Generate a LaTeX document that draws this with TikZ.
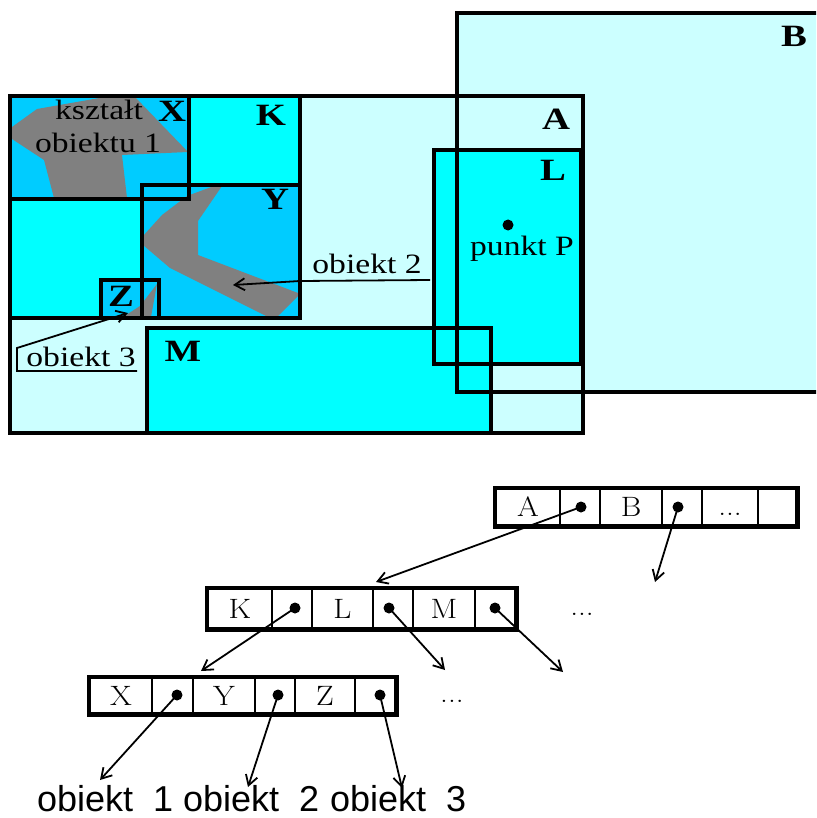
\documentclass[tikz,border=0pt]{standalone}
\usepackage{fontspec}
\newfontfamily\tnr{Liberation Serif}
\newfontfamily\ari{Liberation Sans}
\usetikzlibrary{arrows.meta}
\definecolor{lcyan}{HTML}{CCFFFF}
\definecolor{mcyan}{HTML}{00FFFF}
\definecolor{dcyan}{HTML}{00CCFF}
\definecolor{shapegrey}{HTML}{808080}
\newcommand\boldlbl[1]{\scalebox{1.25}[1]{\tnr\bfseries\fontsize{31}{33}\selectfont #1}}
\newcommand\toplbl[1]{\scalebox{1.2}[1]{\tnr\fontsize{28}{30}\selectfont #1}}
\newcommand\celltxt[1]{\scalebox{1.12}[1]{\fontsize{28}{30}\selectfont #1}}
\begin{document}
\begin{tikzpicture}[x=1pt,y=-1pt,
  region/.style={line width=3.6pt},
  lbl/.style={anchor=base, inner sep=0pt},
  cell/.style={draw, line width=2.8pt, inner sep=0pt},
  ptr/.style={line width=1.8pt, -{Straight Barb[length=10pt,width=12pt,line width=1.8pt]}},
  dotmark/.style={circle, fill, inner sep=0pt, minimum size=11pt},
  bottomtxt/.style={anchor=base west, inner sep=0pt, font=\ari\fontsize{36}{38}\selectfont},
]
\useasboundingbox (0,0) rectangle (816,818);
% ---- fills
\fill[lcyan] (10,96) rectangle (583,433);
\begin{scope}
\clip (0,0) rectangle (816,818);
\fill[lcyan] (457,13) rectangle (830,392);
\end{scope}
\fill[mcyan] (147,328) rectangle (491,433);
\fill[mcyan] (434,150) rectangle (581,364);
\fill[dcyan] (10,96) rectangle (189,199);
\fill[mcyan] (189,96) rectangle (300,185);
\fill[mcyan] (10,199) rectangle (142,318);
\fill[dcyan] (142,185) rectangle (300,318);
\fill[dcyan] (101,280) rectangle (159,318);
% ---- grey object shapes
\fill[shapegrey] (12,127) -- (37,109) -- (105,97) -- (135,97) -- (188,152) -- (122,155)
  -- (127,198) -- (54,198) -- (44,160) -- (12,139) -- cycle;
\fill[shapegrey] (214,186) -- (222,186) -- (198,221) -- (198,255) -- (298,293) -- (298,296)
  -- (278,316) -- (266,316) -- (170,268) -- (143,245) -- (143,236) -- (162,215) -- (187,196) -- cycle;
\fill[shapegrey] (157,284) -- (151,317) -- (123,317) -- (140,306) -- cycle;
% ---- borders
\draw[region] (10,96) rectangle (583,433);
\draw[region] (147,328) rectangle (491,433);
\draw[region] (434,150) rectangle (581,364);
\draw[region] (10,96) rectangle (300,318);
\draw[region] (10,96) rectangle (189,199);
\draw[region] (189,96) rectangle (300,185);
\draw[region] (142,185) rectangle (300,318);
\draw[region] (101,280) rectangle (159,318);
\begin{scope}
\clip (0,0) rectangle (816,818);
\draw[region] (830,13) -- (457,13) -- (457,392) -- (830,392);
\end{scope}
% ---- region labels
\node[lbl] (lX) at (172,122) {\boldlbl{X}};
\node[lbl] (lK) at (271,126) {\boldlbl{K}};
\node[lbl] (lY) at (275,210) {\boldlbl{Y}};
\node[lbl] (lZ) at (121,306) {\boldlbl{Z}};
\node[lbl] (lA) at (556,130) {\boldlbl{A}};
\node[lbl] (lB) at (794,47) {\boldlbl{B}};
\node[lbl] (lL) at (553,181) {\boldlbl{L}};
\node[lbl] (lM) at (183,361) {\boldlbl{M}};
\node[lbl] (t1a) at (99,120) {\toplbl{kształt}};
\node[lbl] (t1b) at (98,153) {\toplbl{obiektu 1}};
\node[dotmark] (P) at (508,225) {};
\node[lbl] (tP) at (522,255) {\toplbl{punkt P}};
% ---- obiekt 2 pointer
\node[lbl] (t2) at (367,273) {\toplbl{obiekt 2}};
\coordinate (o2a) at (430,280);
\coordinate (o2m) at (300,281);
\coordinate (o2b) at (233,285);
\draw[ptr] (o2a) -- (o2m) -- (o2b);
% ---- obiekt 3 pointer
\node[lbl] (t3) at (81,366) {\toplbl{obiekt 3}};
\coordinate (o3a) at (137,371);
\coordinate (o3b) at (17,371);
\coordinate (o3c) at (17,348);
\coordinate (o3d) at (128,313);
\draw[ptr] (o3a) -- (o3b) -- (o3c) -- (o3d);
% ---- list row 1
\begin{scope}[every node/.append style={minimum height=36pt}]
\node[cell, minimum width=64pt] (r1a) at (528,507) {\celltxt{A}};
\node[cell, minimum width=40pt] (r1b) at (580,507) {};
\node[cell, minimum width=62pt] (r1c) at (631,507) {\celltxt{B}};
\node[cell, minimum width=40pt] (r1d) at (682,507) {};
\node[cell, minimum width=56pt] (r1e) at (730,507) {};
\node[cell, minimum width=38pt] (r1f) at (777,507) {};
\end{scope}
\node[lbl] (r1dots) at (730,515) {\celltxt{...}};
\draw[line width=4.2pt] (r1a.north west) rectangle (r1f.south east);
% ---- list row 2
\begin{scope}[every node/.append style={minimum height=39pt}]
\node[cell, minimum width=64pt] (r2a) at (240,608.5) {\celltxt{K}};
\node[cell, minimum width=40pt] (r2b) at (292,608.5) {};
\node[cell, minimum width=61pt] (r2c) at (342.5,608.5) {\celltxt{L}};
\node[cell, minimum width=40pt] (r2d) at (393,608.5) {};
\node[cell, minimum width=62pt] (r2e) at (444,608.5) {\celltxt{M}};
\node[cell, minimum width=40pt] (r2f) at (495,608.5) {};
\end{scope}
\draw[line width=4.2pt] (r2a.north west) rectangle (r2f.south east);
\node[lbl] (r2dots) at (582,615) {\celltxt{...}};
% ---- list row 3
\begin{scope}[every node/.append style={minimum height=35pt}]
\node[cell, minimum width=62pt] (r3a) at (121,695.5) {\celltxt{X}};
\node[cell, minimum width=41pt] (r3b) at (172.5,695.5) {};
\node[cell, minimum width=62pt] (r3c) at (224,695.5) {\celltxt{Y}};
\node[cell, minimum width=40pt] (r3d) at (275,695.5) {};
\node[cell, minimum width=60pt] (r3e) at (325,695.5) {\celltxt{Z}};
\node[cell, minimum width=40pt] (r3f) at (375,695.5) {};
\end{scope}
\draw[line width=4.2pt] (r3a.north west) rectangle (r3f.south east);
\node[lbl] (r3dots) at (452,702) {\celltxt{...}};
% ---- pointer dots
\node[dotmark] (pA) at (581,507) {};
\node[dotmark] (pB) at (678,507) {};
\node[dotmark] (pK) at (295,608) {};
\node[dotmark] (pL) at (389,608) {};
\node[dotmark] (pM) at (495,608) {};
\node[dotmark] (pX) at (177,695) {};
\node[dotmark] (pY) at (278,695) {};
\node[dotmark] (pZ) at (380,695) {};
% ---- pointer ends
\coordinate (eA) at (376,582);
\coordinate (eB) at (655,582);
\coordinate (eK) at (201,671);
\coordinate (eL) at (445,670);
\coordinate (eM) at (563,672);
\coordinate (eX) at (100,780);
\coordinate (eY) at (248,787);
\coordinate (eZ) at (402,788);
\foreach \s/\e in {pA/eA,pB/eB,pK/eK,pL/eL,pM/eM,pX/eX,pY/eY,pZ/eZ}
  \draw[ptr] (\s.center) -- (\e);
% ---- bottom labels
\node[bottomtxt] (b1) at (37,811) {obiekt\ \ 1};
\node[bottomtxt] (b2) at (183,811) {obiekt\ \ 2};
\node[bottomtxt] (b3) at (330,811) {obiekt\ \ 3};
\end{tikzpicture}
\end{document}
